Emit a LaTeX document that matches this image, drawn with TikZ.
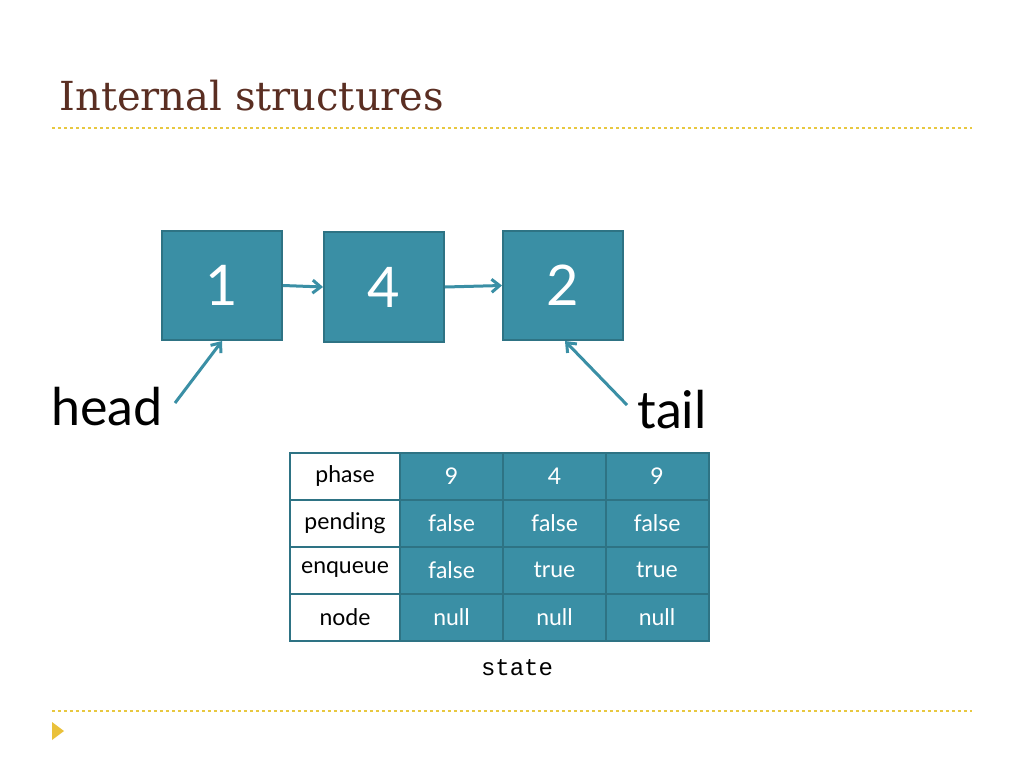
\documentclass[tikz,border=0pt]{standalone}
\usepackage{fontspec}
\usetikzlibrary{arrows.meta}
\setmainfont{Lato}
\newfontfamily\titlefont{DejaVu Serif}
\newfontfamily\monofont{Liberation Mono}
\begin{document}
\begin{tikzpicture}[x=1pt,y=-1pt,
  teal/.style={fill=tl,draw=tld,line width=2pt},
  cell/.style={draw=tld,line width=2pt,minimum width=103pt,minimum height=47pt,inner sep=0pt,font=\fontsize{23}{23}\selectfont},
  vcell/.style={cell,fill=tl,text=white},
  lcell/.style={cell,fill=white,text=black,minimum width=110pt},
  big/.style={teal,minimum width=120pt,minimum height=109pt,text=white,font=\fontsize{56}{56}\selectfont},
  conn/.style={draw=tl,line width=3pt,-{Straight Barb[length=8pt,width=13pt]}}]
\definecolor{tl}{HTML}{3A8FA5}
\definecolor{tld}{HTML}{2E7384}
\definecolor{gold}{HTML}{E8C840}
\definecolor{ttl}{HTML}{5A2E22}
\useasboundingbox (0,0) rectangle (1024,768);
\fill[white] (0,0) rectangle (1024,768);
\node[anchor=west,text=ttl,font=\titlefont\fontsize{40}{40}\selectfont] (title) at (56,96) {Internal structures};
\draw[gold,dashed,line width=1.5pt] (52,128) -- (972,128);
\draw[gold,dashed,line width=1.5pt] (52,711) -- (972,711);
\fill[gold!90!orange] (52,722) -- (64,731) -- (52,740) -- cycle;
\node[big] (b1) at (222,285.5) {1};
\node[big,minimum height=110pt] (b2) at (384,287) {4};
\node[big] (b3) at (563,285.5) {2};
\draw[conn] (b1.east) -- (b2.west);
\draw[conn] (b2.east) -- (b3.west);
\node[font=\fontsize{52}{52}\selectfont] (head) at (107,407) {head};
\node[font=\fontsize{52}{52}\selectfont] (tail) at (672,410) {tail};
\coordinate (hs) at (175,403);
\coordinate (ts) at (627,405);
\coordinate (te) at (565,341);
\draw[conn] (hs) -- (b1.south);
\draw[conn] (ts) -- (te);
\foreach \r/\p/\q/\s [count=\i from 0] in {phase/9/4/9,pending/false/false/false,enqueue/false/true/true,node/null/null/null}{
  \node[lcell] (l\i) at (345,476+47*\i) {\r};
  \node[vcell] (a\i) at (451.5,476+47*\i) {\p};
  \node[vcell] (b\i) at (554.5,476+47*\i) {\q};
  \node[vcell] (c\i) at (657,476+47*\i) {\s};
}
\node[font=\monofont\fontsize{24}{24}\selectfont] (state) at (517,668) {state};
\end{tikzpicture}
\end{document}
